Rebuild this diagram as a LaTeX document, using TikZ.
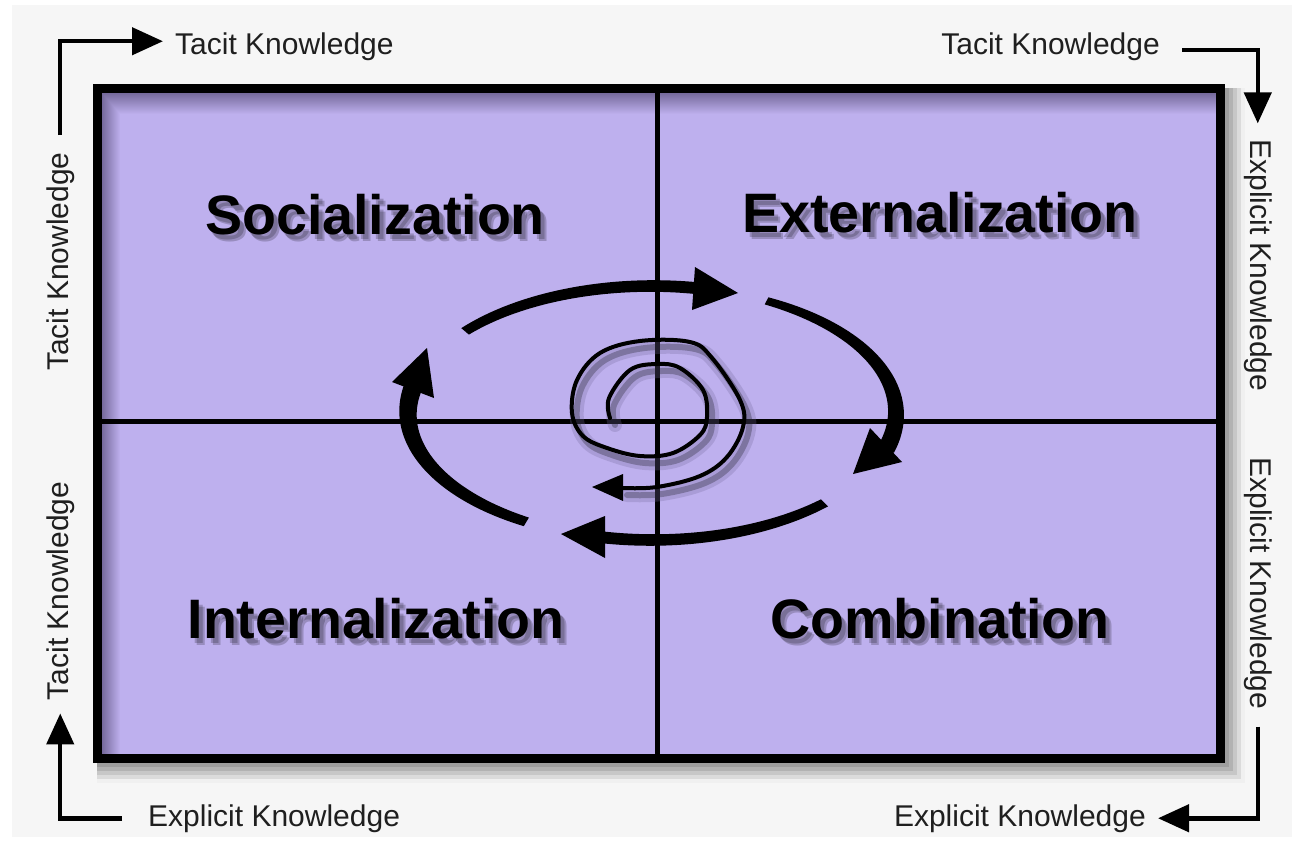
\documentclass[tikz,border=0pt]{standalone}
\usepackage{fontspec}
\usepackage{graphicx}
\setmainfont{Liberation Sans}
\usetikzlibrary{arrows.meta}
\definecolor{bgc}{RGB}{246,246,246}
\definecolor{boxp}{RGB}{190,176,238}
\definecolor{boxd}{RGB}{118,106,156}

% tapered elliptic arc: #1 start angle, #2 end angle, #3 start width, #4 end width
\newcommand{\cycarc}[4]{%
  \fill[black] plot[domain=#1:#2, samples=60] ({652+(244+((#3)+((#4)-(#3))*(\x-(#1))/((#2)-(#1)))/2)*cos(\x)},{413-(127+((#3)+((#4)-(#3))*(\x-(#1))/((#2)-(#1)))/2)*sin(\x)}) -- plot[domain=#2:#1, samples=60] ({652+(244-((#3)+((#4)-(#3))*(\x-(#1))/((#2)-(#1)))/2)*cos(\x)},{413-(127-((#3)+((#4)-(#3))*(\x-(#1))/((#2)-(#1)))/2)*sin(\x)}) -- cycle;}

% big label with soft shadow: #1 name, #2 x, #3 y (baseline), #4 text
\newcommand{\biglab}[4]{%
  \foreach \dx/\dy [count=\i] in {4/5,6/7}
    \node[biglabel, opacity=0.2] (#1sh\i) at (#2+\dx,#3+\dy) {#4};
  \node[biglabel] (#1) at (#2,#3) {#4};}

\begin{document}
\begin{tikzpicture}[x=1pt,y=-1pt,
  biglabel/.style={font=\fontsize{55.6}{60}\selectfont\bfseries, inner sep=0pt, anchor=base, text=black},
  smalllabel/.style={font=\fontsize{30}{34}\selectfont, inner sep=0pt, text=black!88},
  corner/.style={line width=4.5pt, -{Triangle[length=31pt,width=27pt]}},
  divider/.style={line width=5pt},
  spiralline/.style={line width=4pt, line join=round, line cap=round},
]
\useasboundingbox (0,0) rectangle (1292,840);
\fill[white] (0,0) rectangle (1292,840);
\fill[bgc] (12,5) rectangle (1292,837);

% outer drop shadow
\foreach \k/\c in {20/6,16/14,12/22,8/30,4/38}
  \fill[black!\c] (97,88) rectangle (1225+\k,763+\k);

% box
\fill[boxp] (93,84) rectangle (1225,763);
\shade[left color=boxd, right color=boxp] (102,93) rectangle (120,754);
\shade[top color=boxd, bottom color=boxp] (102,93) -- (1216,93) -- (1216,114) -- (120,114) -- cycle;
\draw[line width=9pt] (97.5,88.5) rectangle (1220.5,758.5);

% dividers
\draw[divider] (657,93) -- (657,754);
\draw[divider] (102,421) -- (1216,421);

% outer cycle arrows
\cycarc{140}{78}{10}{12}
\fill (695,267) -- (738,293) -- (692,310) -- cycle;
\cycarc{62}{-17}{8}{18}
\fill (870,428) -- (902,462) -- (853,474) -- cycle;
\cycarc{-45}{-104}{10}{12}
\fill (605,516) -- (561,534) -- (605,558) -- cycle;
\cycarc{239}{167}{10}{19}
\fill (392,382) -- (427,348) -- (434,398) -- cycle;

% spiral shadow
\begin{scope}[shift={(5,7)}]
\draw[boxd, line width=14pt, opacity=0.28, line cap=round, line join=round] plot[smooth, tension=0.6] coordinates {(610,418) (609,398) (630,370) (657,364) (680,368) (703,390) (707,417) (700,435) (673,453) (640,456) (607,448) (583,436) (572,413) (577,380) (600,353) (640,341) (690,342) (712,358) (740,400) (743,427) (727,457) (700,476) (657,487) (622,488)};
\draw[black!70!boxd, line width=6pt, opacity=0.32, line cap=round, line join=round] plot[smooth, tension=0.6] coordinates {(610,418) (609,398) (630,370) (657,364) (680,368) (703,390) (707,417) (700,435) (673,453) (640,456) (607,448) (583,436) (572,413) (577,380) (600,353) (640,341) (690,342) (712,358) (740,400) (743,427) (727,457) (700,476) (657,487) (622,488)};
\end{scope}
% spiral
\draw[spiralline] plot[smooth, tension=0.6] coordinates {(610,418) (609,398) (630,370) (657,364) (680,368) (703,390) (707,417) (700,435) (673,453) (640,456) (607,448) (583,436) (572,413) (577,380) (600,353) (640,341) (690,342) (712,358) (740,400) (743,427) (727,457) (700,476) (657,487) (622,488)};
\fill (623,474) -- (592,487) -- (623,501) -- cycle;

% quadrant labels
\biglab{soc}{375}{234}{Socialization}
\biglab{ext}{940}{232}{Externalization}
\biglab{int}{376}{638}{Internalization}
\biglab{com}{940}{638}{Combination}

% side labels
\node[smalllabel, anchor=base west] (tt) at (175,55) {Tacit Knowledge};
\node[smalllabel, anchor=base east] (tr) at (1160,55) {Tacit Knowledge};
\node[smalllabel, anchor=base west] (bl) at (148,826) {Explicit Knowledge};
\node[smalllabel, anchor=base east] (br) at (1146,826) {Explicit Knowledge};
\node[smalllabel, anchor=base, rotate=90] (lt) at (68,261.5) {Tacit Knowledge};
\node[smalllabel, anchor=base, rotate=90] (lb) at (68,591) {Tacit Knowledge};
\node[smalllabel, anchor=base, rotate=-90] (rt) at (1250,265.5) {Explicit Knowledge};
\node[smalllabel, anchor=base, rotate=-90] (rb) at (1250,583.5) {Explicit Knowledge};

% corner connectors
\draw[corner] ([yshift=17pt]lt.east) |- ([xshift=-12pt,yshift=6pt]tt.west);
\draw[corner] ([xshift=22pt,yshift=-3pt]tr.east) -| ([yshift=16pt]rt.west);
\draw[corner] ([yshift=-17pt]rb.east) |- ([xshift=12pt]br.east);
\draw[corner] ([xshift=-26pt]bl.west) -| ([yshift=-13pt]lb.west);
\end{tikzpicture}
\end{document}
